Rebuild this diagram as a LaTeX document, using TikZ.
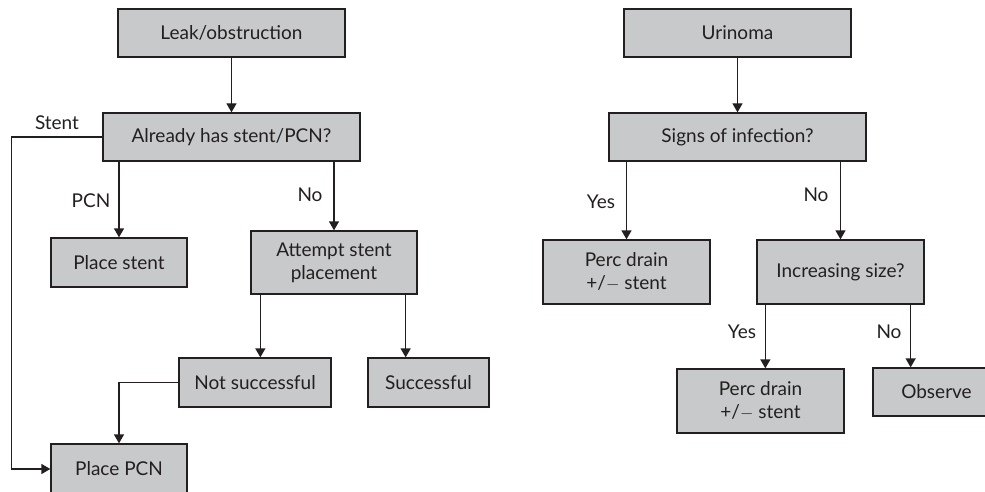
\documentclass[tikz,border=0pt]{standalone}
\usepackage{fontspec}
\setmainfont{Lato}
\usetikzlibrary{arrows.meta}
\definecolor{boxfill}{HTML}{C8C9CB}
\definecolor{ink}{HTML}{231F20}
\begin{document}
\begin{tikzpicture}[x=1pt,y=-1pt,
  box/.style={draw=ink, fill=boxfill, line width=1.3pt, inner sep=0pt,
    align=center, text=ink, font=\fontsize{19}{23}\selectfont},
  link/.style={draw=ink, line width=1.3pt, -{Triangle[width=10pt,length=9pt]}},
  lbl/.style={text=ink, font=\fontsize{19}{23}\selectfont, inner sep=0pt}]
\clip (0,0) rectangle (985,492);

% left tree: leak / obstruction
\node[box, minimum width=227pt, minimum height=48pt] (leak)     at (231.5,33)  {Leak/obstruction};
\node[box, minimum width=257pt, minimum height=48pt] (already)  at (231.5,137) {Already has stent/PCN?};
\node[box, minimum width=136pt, minimum height=49pt] (pstent)   at (119,262.5) {Place stent};
\node[box, minimum width=166pt, minimum height=63pt] (attempt)  at (334,262.5) {Attempt stent\\placement};
\node[box, minimum width=152pt, minimum height=49pt] (notsucc)  at (255,382.5) {Not successful};
\node[box, minimum width=121pt, minimum height=49pt] (succ)     at (428.5,382.5) {Successful};
\node[box, minimum width=136pt, minimum height=50pt] (ppcn)     at (119,469)   {Place PCN};

\draw[link] (leak.south) -- (already.north);
\draw[link] (already.south -| pstent.north) -- (pstent.north);
\draw[link] (already.south -| attempt.north) -- (attempt.north);
\draw[link] (already.west) -- ++(-91,0) |- (ppcn.west);
\draw[link] ([xshift=10pt]attempt.south west) -- ([xshift=10pt]attempt.south west |- notsucc.north);
\draw[link] ([xshift=-12pt]attempt.south east) -- ([xshift=-12pt]attempt.south east |- succ.north);
\draw[link] (notsucc.west) -| (ppcn.north);

\node[lbl] (lstent) at (57,123) {Stent};
\node[lbl] (lpcn)   at (91,201) {PCN};
\node[lbl] (lno1)   at (310,195) {No};

% right tree: urinoma
\node[box, minimum width=227pt, minimum height=48pt] (urin)   at (737.5,33)  {Urinoma};
\node[box, minimum width=257pt, minimum height=48pt] (signs)  at (737.5,137) {Signs of infection?};
\node[box, minimum width=167pt, minimum height=64pt] (perca)  at (626.5,272) {Perc drain\\+/$-$ stent};
\node[box, minimum width=167pt, minimum height=64pt] (incr)   at (840.5,272) {Increasing size?};
\node[box, minimum width=167pt, minimum height=64pt] (percb)  at (760.5,401) {Perc drain\\+/$-$ stent};
\node[box, minimum width=127pt, minimum height=48pt] (obs)    at (936.5,392) {Observe};

\draw[link] (urin.south) -- (signs.north);
\draw[link] (signs.south -| perca.north) -- (perca.north);
\draw[link] (signs.south -| incr.north) -- (incr.north);
\draw[link] ([xshift=9pt]incr.south west) -- ([xshift=9pt]incr.south west |- percb.north);
\draw[link] ([xshift=-14pt]incr.south east) -- ([xshift=-14pt]incr.south east |- obs.north);

\node[lbl] (lyes1) at (601,202) {Yes};
\node[lbl] (lno2)  at (816,195) {No};
\node[lbl] (lyes2) at (742,332) {Yes};
\node[lbl] (lno3)  at (889,332) {No};
\end{tikzpicture}
\end{document}
